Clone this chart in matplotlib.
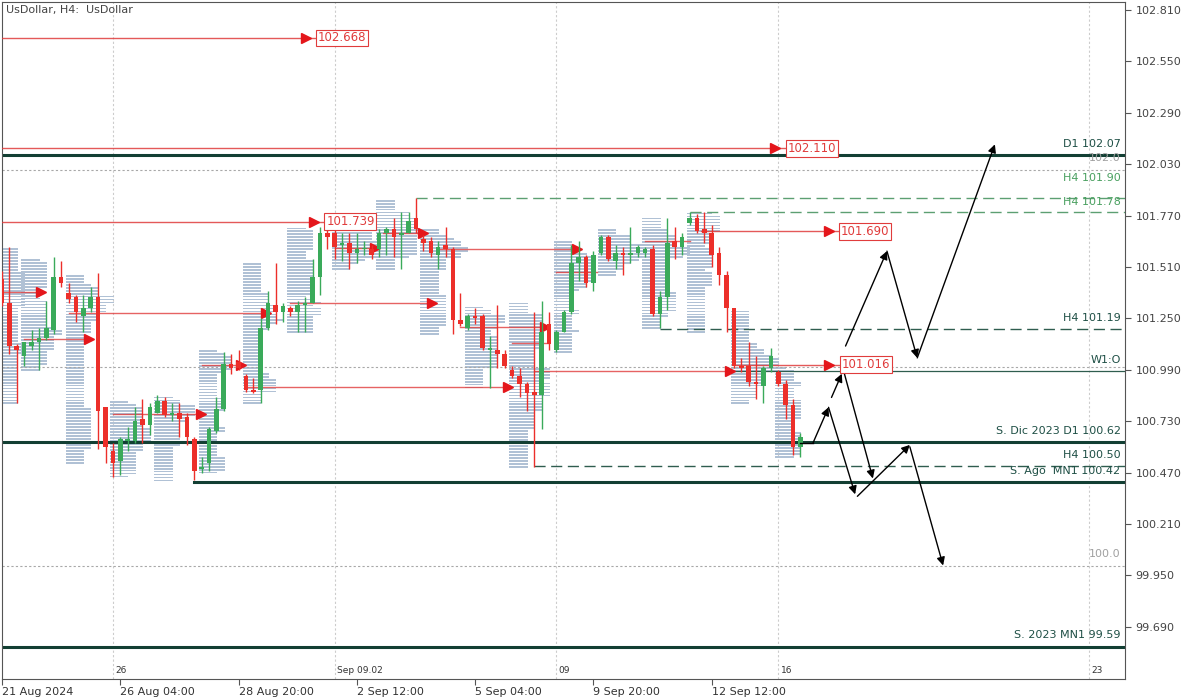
import matplotlib
matplotlib.use("Agg")
import matplotlib.pyplot as plt
import numpy as np

# H4 candles, bar 0 = 21 Aug 2024 12:00
opens = [101.45, 101.33, 101.11, 101.06, 101.11, 101.13, 101.15, 101.19, 101.46, 101.38,
         101.36, 101.26, 101.30, 101.36, 100.80, 100.58, 100.53, 100.63, 100.63, 100.74,
         100.71, 100.77, 100.83, 100.76, 100.77, 100.75, 100.64, 100.49, 100.52, 100.68,
         100.79, 101.02, 101.03, 100.96, 100.89, 100.89, 101.20, 101.32, 101.28, 101.30,
         101.28, 101.32, 101.33, 101.46, 101.68, 101.68, 101.62, 101.63, 101.58, 101.60,
         101.60, 101.60, 101.68, 101.70, 101.67, 101.68, 101.76, 101.65, 101.64, 101.57,
         101.62, 101.60, 101.24, 101.20, 101.26, 101.26, 101.09, 101.09, 101.07, 100.99,
         100.96, 100.92, 100.88, 100.86, 101.22, 101.09, 101.18, 101.28, 101.53, 101.56,
         101.43, 101.58, 101.66, 101.54, 101.58, 101.57, 101.58, 101.58, 101.60, 101.27,
         101.36, 101.64, 101.61, 101.73, 101.76, 101.70, 101.68, 101.58, 101.47, 101.30,
         101.01, 101.01, 100.93, 100.91, 101.00, 100.98, 100.92, 100.81, 100.60]
highs = [101.49, 101.61, 101.12, 101.13, 101.19, 101.20, 101.34, 101.56, 101.54, 101.43,
         101.37, 101.37, 101.41, 101.48, 100.80, 100.62, 100.65, 100.70, 100.80, 100.84,
         100.82, 100.86, 100.85, 100.82, 100.82, 100.77, 100.65, 100.55, 100.70, 100.85,
         101.08, 101.07, 101.09, 100.97, 100.95, 101.25, 101.39, 101.53, 101.33, 101.31,
         101.34, 101.36, 101.55, 101.71, 101.70, 101.71, 101.68, 101.68, 101.68, 101.64,
         101.62, 101.70, 101.71, 101.76, 101.79, 101.79, 101.86, 101.67, 101.66, 101.64,
         101.71, 101.61, 101.38, 101.27, 101.30, 101.27, 101.16, 101.32, 101.09, 101.01,
         101.00, 100.93, 101.28, 101.34, 101.28, 101.19, 101.29, 101.62, 101.64, 101.57,
         101.59, 101.67, 101.67, 101.62, 101.61, 101.71, 101.62, 101.61, 101.62, 101.39,
         101.76, 101.71, 101.68, 101.79, 101.78, 101.79, 101.72, 101.61, 101.49, 101.30,
         101.05, 101.13, 101.06, 101.01, 101.10, 100.99, 100.94, 100.84, 100.67]
lows = [101.31, 101.07, 100.82, 101.01, 101.09, 100.99, 101.14, 101.17, 101.41, 101.33,
        101.23, 101.18, 101.28, 100.59, 100.52, 100.45, 100.46, 100.58, 100.62, 100.62,
        100.66, 100.77, 100.75, 100.73, 100.65, 100.61, 100.43, 100.47, 100.48, 100.67,
        100.78, 100.97, 100.99, 100.88, 100.87, 100.82, 101.19, 101.22, 101.23, 101.26,
        101.18, 101.18, 101.33, 101.37, 101.60, 101.55, 101.54, 101.50, 101.53, 101.57,
        101.55, 101.56, 101.57, 101.56, 101.50, 101.68, 101.68, 101.59, 101.56, 101.50,
        101.56, 101.17, 101.21, 101.19, 101.22, 101.09, 100.90, 101.00, 101.00, 100.95,
        100.85, 100.78, 100.50, 100.69, 101.09, 101.08, 101.18, 101.27, 101.44, 101.41,
        101.39, 101.57, 101.54, 101.50, 101.47, 101.53, 101.56, 101.56, 101.26, 101.20,
        101.29, 101.55, 101.57, 101.72, 101.68, 101.63, 101.51, 101.42, 101.18, 101.00,
        100.98, 100.91, 100.84, 100.82, 100.98, 100.91, 100.74, 100.56, 100.55]
closes = [101.33, 101.11, 101.09, 101.13, 101.13, 101.15, 101.20, 101.46, 101.43, 101.35,
          101.28, 101.30, 101.36, 100.78, 100.60, 100.52, 100.64, 100.64, 100.73, 100.71,
          100.80, 100.83, 100.76, 100.77, 100.74, 100.65, 100.48, 100.50, 100.69, 100.79,
          101.02, 101.00, 101.00, 100.89, 100.88, 101.20, 101.33, 101.28, 101.31, 101.28,
          101.32, 101.33, 101.46, 101.68, 101.66, 101.61, 101.63, 101.58, 101.60, 101.60,
          101.57, 101.68, 101.70, 101.66, 101.68, 101.74, 101.70, 101.63, 101.58, 101.61,
          101.60, 101.24, 101.22, 101.26, 101.25, 101.10, 101.10, 101.07, 101.01, 100.96,
          100.92, 100.87, 100.86, 101.18, 101.12, 101.18, 101.28, 101.53, 101.56, 101.43,
          101.57, 101.66, 101.55, 101.58, 101.57, 101.58, 101.61, 101.60, 101.27, 101.36,
          101.63, 101.61, 101.66, 101.76, 101.69, 101.68, 101.57, 101.47, 101.30, 101.01,
          101.00, 100.93, 100.92, 101.00, 101.06, 100.92, 100.81, 100.60, 100.65]

# first bar of each trading day (for the daily profiles)
day_starts = [0, 3, 9, 15, 21, 27, 33, 39, 45, 51, 57, 63, 69, 75, 81, 87, 93, 99, 105]

# bottom axis
date_ticks = [0, 16, 32, 48, 64, 80, 96]
date_labels = ["21 Aug 2024", "26 Aug 04:00", "28 Aug 20:00", "2 Sep 12:00",
               "5 Sep 04:00", "9 Sep 20:00", "12 Sep 12:00"]
week_bars = [15, 45, 75, 105, 147]
week_labels = ["26", "Sep 09.02", "09", "16", "23"]
price_ticks = [102.81, 102.55, 102.29, 102.03, 101.77, 101.51, 101.25,
               100.99, 100.73, 100.47, 100.21, 99.95, 99.69]

# red naked-level lines: start bar, arrow bar, price, label
red_levels = [(-1, 41.1, 102.668, "102.668"),
              (-1, 104.6, 102.110, "102.110"),
              (-1, 42.2, 101.739, "101.739"),
              (94.5, 111.8, 101.690, "101.690"),
              (99.3, 111.9, 101.016, "101.016")]
red_short = [(-1, 5.3, 101.384, True), (3, 11.8, 101.146, True), (9, 35.7, 101.277, True),
             (15, 26.9, 100.767, True), (27, 32.3, 101.014, True), (33, 68.4, 100.903, True),
             (39, 58.2, 101.328, True), (45, 50.5, 101.606, True), (51.5, 57.0, 101.682, True),
             (59, 77.8, 101.601, True), (62, 73.5, 101.207, True), (69, 74.0, 101.126, False),
             (72, 98.5, 100.984, True), (75, 80.5, 101.485, False), (87, 93.0, 101.642, False)]

# support / resistance lines
solid_levels = [(102.077, -1), (100.625, -1), (100.423, 26), (99.588, -1)]
dashed_levels = [(101.859, 56, "#5c9f72"), (101.788, 93, "#5c9f72"),
                 (101.197, 89, "#2f5d4f"), (100.503, 72, "#2f5d4f")]
dotted_levels = [102.0, 101.004, 100.0]
# right-side labels: value, text, colour
level_labels = [(102.07, "D1 102.07", "#1e4f45"), (102.0, "102.0", "#a0a0a0"),
                (101.90, "H4 101.90", "#4aa060"), (101.78, "H4 101.78", "#4aa060"),
                (101.19, "H4 101.19", "#1e4f45"), (100.98, "W1:O", "#1e4f45"),
                (100.62, "S. Dic 2023 D1 100.62", "#1e4f45"), (100.50, "H4 100.50", "#1e4f45"),
                (100.42, "S. Ago  MN1 100.42", "#1e4f45"), (100.0, "100.0", "#a0a0a0"),
                (99.59, "S. 2023 MN1 99.59", "#1e4f45")]

# projected scenario arrows: (bar, price) -> (bar, price), head
scenario = [((108.0, 100.62), (109.7, 100.62), False),
            ((109.7, 100.62), (111.8, 100.80), True),
            ((112.2, 100.85), (113.6, 100.97), True),
            ((114.1, 101.11), (119.7, 101.59), True),
            ((119.7, 101.59), (123.8, 101.05), True),
            ((123.8, 101.05), (134.3, 102.13), True),
            ((111.8, 100.80), (115.4, 100.36), True),
            ((113.8, 100.99), (117.8, 100.44), True),
            ((115.7, 100.35), (122.8, 100.61), True),
            ((122.8, 100.60), (127.3, 100.00), True)]

RED = "#e03c3c"
DARK = "#123f33"

plt.rcParams['font.family'] = ['DejaVu Sans']
fig = plt.figure(figsize=(12, 7), dpi=100)
ax = fig.add_axes([2 / 1200, 1 - 679 / 700, 1123 / 1200, 677 / 700])
XMAX = 151.9
ax.set_xlim(0.1, XMAX)
ax.set_ylim(99.426, 102.85)

o = np.array(opens); h = np.array(highs); l = np.array(lows); c = np.array(closes)
idx = np.arange(len(o))

# daily profiles
ends = day_starts[1:] + [len(o)]
for s, e in zip(day_starts, ends):
    lv = np.arange(l[s:e].min(), h[s:e].max(), 0.015)
    cnt = np.array([np.sum((l[s:e] <= p) & (h[s:e] >= p)) for p in lv])
    ok = cnt > 0
    ax.barh(lv[ok], (cnt[ok] + 1.5) * 1.0, left=s - 0.4, height=0.009,
            color="#b0c1d5", zorder=1)

# vertical week grid
for b in week_bars:
    ax.axvline(b, color="#cccccc", lw=0.8, ls=(0, (2, 2)), zorder=0)

for p in dotted_levels:
    ax.axhline(p, color="#a8a8a8", lw=0.8, ls=(0, (2, 2)), zorder=2)
for p, s in solid_levels:
    ax.plot([s, XMAX], [p, p], color=DARK, lw=2.2, zorder=2)
for p, s, col in dashed_levels:
    ax.plot([s, XMAX], [p, p], color=col, lw=1.0, ls=(0, (8, 4)), zorder=2)
ax.plot([98.5, XMAX], [100.985, 100.985], color="#2f5d4f", lw=0.9, zorder=2)

# red level lines with arrows and price boxes
for s, a, p, lab in red_levels:
    ax.plot([s, a + 1.6], [p, p], color=RED, lw=1.0, alpha=0.85, zorder=3)
    ax.plot([a], [p], marker=">", ms=7, color="#e4161b", zorder=3)
    ax.text(a + 1.65, p, lab, color=RED, fontsize=8.5, va="center", ha="left", zorder=6,
            bbox=dict(boxstyle="square,pad=0.15", fc="white", ec=RED, lw=0.8))
for s, e, p, arrow in red_short:
    ax.plot([s, e], [p, p], color=RED, lw=1.0, alpha=0.8, zorder=3)
    if arrow:
        ax.plot([e], [p], marker=">", ms=7, color="#e4161b", zorder=3)

# candles
up = c >= o
cols = np.where(up, "#3aaa5a", "#ec2f2a")
ax.vlines(idx, l, h, colors=cols, lw=1.0, zorder=4)
ax.bar(idx, np.maximum(np.abs(c - o), 0.006), bottom=np.minimum(o, c), width=0.62,
       color=cols, zorder=4)

# scenario arrows
for (x0, y0), (x1, y1), head in scenario:
    if head:
        ax.annotate("", xy=(x1, y1), xytext=(x0, y0), zorder=5,
                    arrowprops=dict(arrowstyle="-|>", color="black", lw=1.0,
                                    mutation_scale=12, shrinkA=0, shrinkB=0))
    else:
        ax.plot([x0, x1], [y0, y1], color="black", lw=1.0, zorder=5)

for v, txt, col in level_labels:
    ax.text(151.3, v + 0.06, txt, color=col, fontsize=8, ha="right", va="center", zorder=6)

for b, txt in zip(week_bars, week_labels):
    ax.text(b + 0.3, 99.467, txt, fontsize=6.5, color="#333333", va="center", ha="left")

ax.yaxis.tick_right()
ax.set_yticks(price_ticks)
ax.set_yticklabels(["%.3f" % v for v in price_ticks])
ax.set_xticks(date_ticks)
ax.set_xticklabels(date_labels)
for t in ax.get_xticklabels():
    t.set_ha("left")
ax.tick_params(axis="y", labelsize=8, colors="#555555", length=4, labelcolor="#444444")
ax.tick_params(axis="x", labelsize=8, colors="#555555", length=4, pad=2, labelcolor="#333333")
for sp in ax.spines.values():
    sp.set_color("#555555")
    sp.set_linewidth(0.8)

fig.text(6 / 1200, 1 - 10 / 700, "UsDollar, H4:  UsDollar", fontsize=8, color="#444444",
         va="center", ha="left")

fig.savefig("out.png", dpi=100)
